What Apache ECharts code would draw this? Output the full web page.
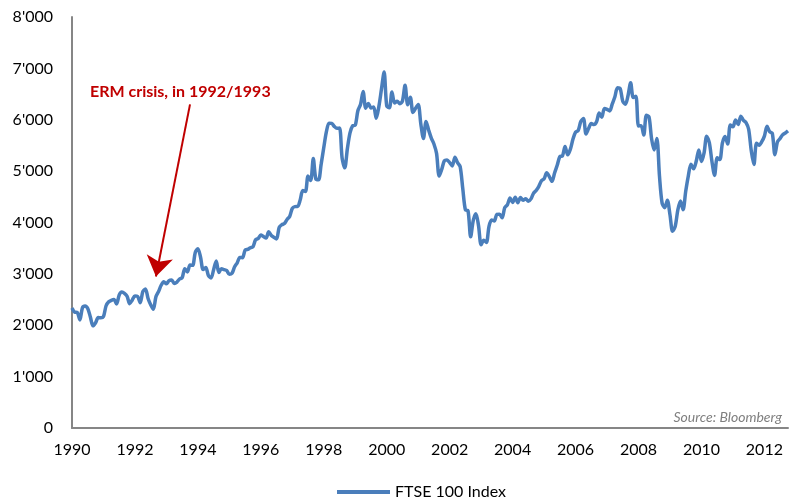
<!DOCTYPE html>
<html>
<head>
<meta charset="utf-8">
<script src="https://cdn.jsdelivr.net/npm/echarts@6/dist/echarts.min.js"></script>
<style>
  html, body { margin: 0; padding: 0; background: #fff; }
  #mychart { width: 793px; height: 499px; }
</style>
</head>
<body>
<div id="mychart"></div>
<script>
// FTSE 100 month-end level, Jan 1990 .. Oct 2012
var startYear = 1990
var ftse1990s = [
  2337, 2255, 2247, 2103, 2345, 2375, 2326, 2162, 1990, 2050, 2149, 2144,
  2170, 2380, 2456, 2486, 2500, 2415, 2589, 2645, 2622, 2566, 2420, 2493,
  2571, 2562, 2440, 2654, 2708, 2521, 2400, 2313, 2553, 2658, 2778, 2847,
  2807, 2868, 2879, 2813, 2840, 2900, 2926, 3100, 3038, 3171, 3166, 3418,
  3491, 3328, 3086, 3125, 2970, 2919, 3082, 3251, 3027, 3098, 3082, 3066,
  2991, 3010, 3137, 3216, 3319, 3315, 3463, 3477, 3508, 3529, 3664, 3689,
  3759, 3727, 3699, 3818, 3748, 3711, 3681, 3907, 3956, 3979, 4058, 4119,
  4275, 4309, 4312, 4437, 4621, 4604, 4907, 4817, 5244, 4842, 4831, 5136,
  5458, 5767, 5932, 5928, 5871, 5833, 5837, 5249, 5064, 5438, 5744, 5883,
  5896, 6175, 6296, 6552, 6226, 6318, 6231, 6246, 6030, 6256, 6597, 6930
]
var ftse2000s = [
  6269, 6233, 6540, 6327, 6360, 6313, 6365, 6673, 6294, 6438, 6142, 6223,
  6297, 5918, 5634, 5967, 5796, 5643, 5529, 5345, 4903, 5040, 5204, 5217,
  5165, 5102, 5272, 5165, 5086, 4656, 4246, 4227, 3722, 4040, 4169, 3940,
  3567, 3656, 3613, 3926, 4048, 4031, 4157, 4161, 4091, 4288, 4343, 4477,
  4390, 4492, 4386, 4489, 4431, 4464, 4413, 4459, 4571, 4624, 4703, 4814,
  4852, 4968, 4894, 4801, 4964, 5113, 5282, 5296, 5478, 5317, 5423, 5619,
  5760, 5792, 5965, 6023, 5724, 5833, 5928, 5906, 5961, 6129, 6049, 6221,
  6203, 6172, 6308, 6449, 6621, 6608, 6360, 6303, 6467, 6722, 6433, 6457,
  5880, 5884, 5702, 6087, 6054, 5626, 5412, 5637, 4902, 4377, 4288, 4434,
  4150, 3830, 3926, 4244, 4418, 4249, 4608, 4909, 5134, 5045, 5191, 5413
]
var ftse2010s = [
  5189, 5355, 5680, 5553, 5188, 4917, 5258, 5225, 5549, 5675, 5528, 5900,
  5863, 5994, 5909, 6070, 5990, 5946, 5815, 5395, 5128, 5544, 5505, 5572,
  5682, 5872, 5768, 5738, 5321, 5571, 5635, 5711, 5742, 5782
]
var ftse = ftse1990s.concat(ftse2000s, ftse2010s)

// monthly category labels, e.g. 1990-01
var months = ftse.map(function (v, i) {
  var m = i % 12 + 1
  return (startYear + Math.floor(i / 12)) + '-' + (m < 10 ? '0' + m : m)
})

// arrow for the annotation: from the label down to the 1992 dip
var arrowFrom = ['1993-10', 6300]
var arrowTo = ['1992-09', 2950]

var font = 'Lato, "Open Sans", sans-serif'

var mychart = echarts.init(document.getElementById('mychart'))
mychart.setOption({
  animation: false,
  textStyle: { fontFamily: font },
  grid: { left: 72, right: 5, top: 17, bottom: 71, containLabel: false },
  legend: {
    left: 332,
    top: 479,
    itemWidth: 53,
    itemHeight: 4,
    data: [{ name: 'FTSE 100 Index', icon: 'rect' }],
    textStyle: { color: '#000', fontSize: 16, fontFamily: font }
  },
  xAxis: {
    type: 'category',
    data: months,
    boundaryGap: false,
    axisLine: { lineStyle: { color: '#868686', width: 2 } },
    axisTick: { show: false },
    splitLine: { show: false },
    axisLabel: {
      interval: 23,
      margin: 14,
      color: '#000',
      fontSize: 16,
      fontFamily: font,
      formatter: function (v) { return v.slice(0, 4) }
    }
  },
  yAxis: {
    type: 'value',
    min: 0,
    max: 8000,
    interval: 1000,
    axisLine: { show: true, lineStyle: { color: '#868686', width: 2 } },
    axisTick: { show: false },
    splitLine: { show: false },
    axisLabel: {
      margin: 19,
      color: '#000',
      fontSize: 16,
      fontFamily: font,
      formatter: function (v) { return v === 0 ? '0' : (v / 1000) + "'000" }
    }
  },
  graphic: [
    {
      type: 'text',
      left: 90,
      top: 84,
      style: {
        text: 'ERM crisis, in 1992/1993',
        fill: '#c00000',
        font: 'bold 16px ' + font
      }
    },
    {
      type: 'text',
      right: 11,
      top: 410,
      style: {
        text: 'Source: Bloomberg',
        fill: '#7f7f7f',
        font: 'italic 14px ' + font
      }
    }
  ],
  series: [
    {
      name: 'FTSE 100 Index',
      type: 'line',
      data: ftse,
      showSymbol: false,
      smooth: 0.3,
      itemStyle: { color: '#4a7ebb' },
      lineStyle: { color: '#4a7ebb', width: 3.5 },
      markLine: {
        silent: true,
        symbol: ['none', 'arrow'],
        symbolSize: 20,
        label: { show: false },
        lineStyle: { color: '#c00000', width: 2, type: 'solid' },
        data: [[{ coord: arrowFrom }, { coord: arrowTo }]]
      }
    }
  ]
})
</script>
</body>
</html>
